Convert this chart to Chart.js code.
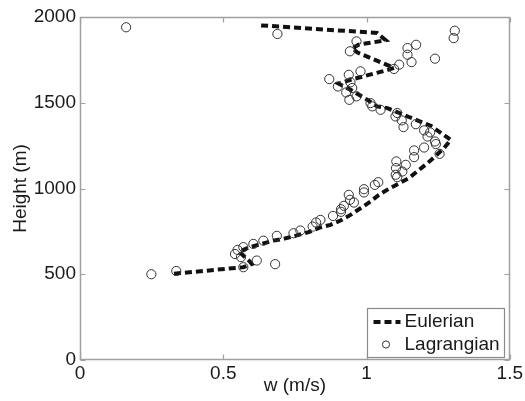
<!DOCTYPE html>
<html><head><meta charset="utf-8">
<script src="https://cdn.jsdelivr.net/npm/chart.js@4/dist/chart.umd.min.js"></script>
<style>html,body{margin:0;padding:0;background:#fff}#wrap{width:525px;height:401px}</style>
</head><body><div id="wrap"><canvas id="c" width="525" height="401"></canvas></div>
<script>
const xTicks = [0, 0.5, 1, 1.5];
const yTicks = [0, 500, 1000, 1500, 2000];
const seriesLabels = ['Eulerian', 'Lagrangian'];
const xTitle = 'w (m/s)';
const yTitle = 'Height (m)';

// Eulerian profile (w in m/s, height in m), read top to bottom
const eulerW = [0.632, 1.037, 1.067, 0.973, 0.950, 0.967, 1.096, 1.078, 0.944, 0.903, 0.944, 1.002, 1.037, 1.073, 1.148, 1.224, 1.294, 1.271, 1.213, 1.148, 1.078, 1.043, 1.014, 0.979, 0.944, 0.909, 0.874, 0.836, 0.798, 0.754, 0.713, 0.675, 0.634, 0.593, 0.555, 0.593, 0.599, 0.570, 0.321];
const eulerH = [1951, 1907, 1864, 1839, 1819, 1794, 1703, 1693, 1634, 1611, 1576, 1518, 1479, 1469, 1417, 1366, 1284, 1236, 1148, 1061, 998, 963, 924, 885, 846, 813, 788, 772, 746, 725, 708, 696, 677, 658, 632, 574, 560, 541, 502];

// Lagrangian estimates
const lagW = [0.161, 0.689, 1.308, 1.304, 0.965, 0.942, 1.143, 1.173, 1.143, 1.157, 1.239, 1.114, 1.096, 0.979, 0.938, 0.870, 0.900, 0.944, 0.950, 0.929, 0.965, 0.940, 1.014, 1.020, 1.049, 1.107, 1.101, 1.123, 1.129, 1.172, 1.201, 1.222, 1.213, 1.239, 1.242, 1.201, 1.255, 1.166, 1.166, 1.104, 1.137, 1.103, 1.125, 1.102, 1.107, 1.041, 1.029, 0.991, 0.991, 0.938, 0.942, 0.956, 0.921, 0.911, 0.911, 0.883, 0.839, 0.824, 0.812, 0.769, 0.745, 0.687, 0.640, 0.605, 0.570, 0.550, 0.541, 0.562, 0.617, 0.570, 0.681, 0.336, 0.249];
const lagH = [1940, 1901, 1920, 1877, 1858, 1800, 1819, 1838, 1780, 1737, 1757, 1722, 1697, 1683, 1663, 1638, 1595, 1619, 1586, 1560, 1537, 1517, 1498, 1479, 1459, 1440, 1420, 1397, 1358, 1375, 1339, 1327, 1303, 1274, 1259, 1239, 1202, 1222, 1183, 1158, 1138, 1119, 1099, 1080, 1066, 1037, 1021, 996, 977, 963, 934, 918, 899, 879, 864, 840, 817, 802, 778, 755, 739, 724, 696, 677, 658, 642, 618, 600, 580, 541, 559, 519, 500];

const FONT = 'Liberation Sans, Arial, Helvetica, sans-serif';
const TXT = '#1a1a1a';

const frameTicks = {
  id: 'frameTicks',
  afterDraw(chart) {
    const ctx = chart.ctx;
    const a = chart.chartArea;
    const sx = chart.scales.x, sy = chart.scales.y;
    ctx.save();
    ctx.setLineDash([]);
    ctx.lineWidth = 1.5;
    ctx.strokeStyle = '#a0a0a0';
    const L = Math.round(a.left) + 0.5, R = Math.round(a.right) - 0.5;
    const T = Math.round(a.top) + 0.5, B = Math.round(a.bottom) - 0.5;
    ctx.strokeRect(L, T, R - L, B - T);
    const tl = 5;
    ctx.lineWidth = 1.2;
    ctx.beginPath();
    sx.ticks.forEach(t => {
      const px = Math.round(sx.getPixelForValue(t.value)) + 0.5;
      ctx.moveTo(px, B); ctx.lineTo(px, B - tl);
      ctx.moveTo(px, T); ctx.lineTo(px, T + tl);
    });
    sy.ticks.forEach(t => {
      const py = Math.round(sy.getPixelForValue(t.value)) + 0.5;
      ctx.moveTo(L, py); ctx.lineTo(L + tl, py);
      ctx.moveTo(R, py); ctx.lineTo(R - tl, py);
    });
    ctx.stroke();

    // legend box (bottom-right inside plot)
    const ds = chart.data.datasets;
    const bw = 137, bh = 49;
    const bx = Math.round(a.right - 6 - bw) + 0.5, by = Math.round(a.bottom - 3 - bh) + 0.5;
    ctx.fillStyle = '#ffffff';
    ctx.fillRect(bx, by, bw, bh);
    ctx.lineWidth = 1.2;
    ctx.strokeStyle = '#8a8a8a';
    ctx.strokeRect(bx, by, bw, bh);
    const y1 = by + 13.5, y2 = by + 36;
    ctx.strokeStyle = ds[0].borderColor;
    ctx.lineWidth = ds[0].borderWidth;
    ctx.setLineDash(ds[0].borderDash);
    ctx.beginPath(); ctx.moveTo(bx + 6, y1); ctx.lineTo(bx + 33, y1); ctx.stroke();
    ctx.setLineDash([]);
    ctx.strokeStyle = ds[1].borderColor;
    ctx.lineWidth = 1;
    ctx.beginPath(); ctx.arc(bx + 18.5, y2, 3.6, 0, Math.PI * 2); ctx.stroke();
    ctx.fillStyle = TXT;
    ctx.font = '19px ' + FONT;
    ctx.textBaseline = 'middle';
    ctx.textAlign = 'left';
    ctx.fillText(ds[0].label, bx + 37, y1);
    ctx.fillText(ds[1].label, bx + 37, y2);
    ctx.restore();
  }
};

new Chart(document.getElementById('c'), {
  type: 'scatter',
  data: {
    datasets: [
      {
        label: seriesLabels[0],
        data: eulerW.map((w, i) => ({x: w, y: eulerH[i]})),
        showLine: true,
        borderColor: '#111111',
        borderWidth: 4,
        borderDash: [7, 4],
        borderCapStyle: 'butt',
        pointRadius: 0,
        fill: false,
        order: 2
      },
      {
        label: seriesLabels[1],
        data: lagW.map((w, i) => ({x: w, y: lagH[i]})),
        showLine: false,
        pointRadius: 4.6,
        pointBorderWidth: 1,
        borderColor: '#333333',
        backgroundColor: 'rgba(0,0,0,0)',
        order: 1
      }
    ]
  },
  options: {
    responsive: false,
    animation: false,
    devicePixelRatio: 1,
    layout: {padding: {left: 0, right: 13, top: 17, bottom: 0}},
    plugins: {legend: {display: false}, tooltip: {enabled: false}},
    scales: {
      x: {
        type: 'linear', min: 0, max: 1.5,
        afterBuildTicks: s => { s.ticks = xTicks.map(v => ({value: v})); },
        afterFit: s => { s.height = 41; },
        grid: {display: false, drawTicks: false},
        border: {display: false},
        ticks: {color: TXT, font: {family: FONT, size: 19}, padding: 2, callback: v => String(v)},
        title: {display: true, text: xTitle, color: TXT, font: {family: FONT, size: 19}, padding: {top: 0, bottom: 4}}
      },
      y: {
        type: 'linear', min: 0, max: 2000,
        afterBuildTicks: s => { s.ticks = yTicks.map(v => ({value: v})); },
        afterFit: s => { s.width = 80; },
        grid: {display: false, drawTicks: false},
        border: {display: false},
        ticks: {color: TXT, font: {family: FONT, size: 19}, padding: 4, callback: v => String(v)},
        title: {display: true, text: yTitle, color: TXT, font: {family: FONT, size: 19}, padding: {top: 9, bottom: 0}}
      }
    }
  },
  plugins: [frameTicks]
});
</script>
</body></html>
